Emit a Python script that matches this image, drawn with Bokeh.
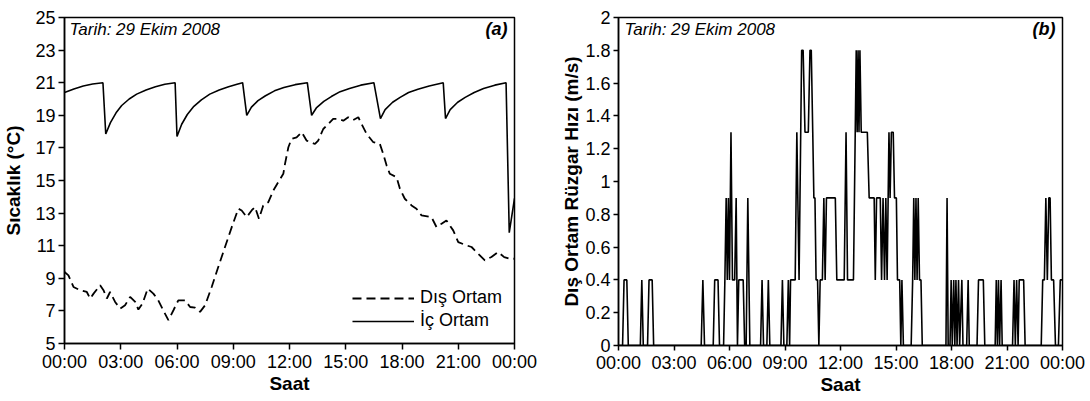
from bokeh.plotting import figure
from bokeh.models import Range1d, FixedTicker, Label, Legend, LegendItem
from bokeh.layouts import row
from bokeh.embed import file_html
from bokeh.resources import INLINE

# ---------------- data ----------------
hour_ticks = [0, 3, 6, 9, 12, 15, 18, 21, 24]
hour_labels = ["00:00", "03:00", "06:00", "09:00", "12:00", "15:00", "18:00", "21:00", "00:00"]
temp_ticks = [5, 7, 9, 11, 13, 15, 17, 19, 21, 23, 25]
wind_ticks = [0, 0.2, 0.4, 0.6, 0.8, 1, 1.2, 1.4, 1.6, 1.8, 2]
wind_tick_labels = ["0", "0.2", "0.4", "0.6", "0.8", "1", "1.2", "1.4", "1.6", "1.8", "2"]

# Dış Ortam (outdoor) temperature, °C
out_hours = [0.0, 0.21, 0.48, 0.83, 1.19, 1.37, 1.55, 1.9, 2.08, 2.26,
             2.43, 2.7, 2.97, 3.23, 3.5, 3.77, 3.94, 4.16, 4.44, 4.74,
             5.0, 5.22, 5.54, 5.81, 6.07, 6.43, 6.7, 6.96, 7.23, 7.5,
             7.85, 8.2, 8.56, 8.92, 9.27, 9.45, 9.72, 9.98, 10.16, 10.37,
             10.6, 10.87, 11.14, 11.4, 11.67, 11.76, 11.94, 12.11, 12.38, 12.65,
             12.91, 13.36, 13.53, 13.8, 14.07, 14.33, 14.6, 14.87, 15.13, 15.4,
             15.67, 15.84, 16.11, 16.47, 16.82, 17.0, 17.18, 17.35, 17.71, 17.89,
             18.15, 18.51, 18.77, 19.04, 19.57, 19.84, 20.11, 20.37, 20.73, 21.0,
             21.44, 21.71, 22.06, 22.42, 22.77, 23.13, 23.45, 23.75, 24.0]
out_temp = [9.39, 9.18, 8.47, 8.27, 8.16, 7.76, 8.06, 8.57, 8.27, 7.76,
            8.16, 7.55, 7.14, 7.35, 7.86, 7.55, 7.08, 7.45, 8.37, 8.06,
            7.65, 7.14, 6.43, 7.04, 7.65, 7.65, 7.24, 7.2, 6.94, 7.35,
            8.47, 9.69, 10.92, 12.14, 13.27, 13.16, 12.76, 13.16, 13.37, 12.65,
            13.47, 13.67, 14.39, 14.9, 15.41, 16.02, 17.04, 17.55, 17.65, 17.96,
            17.45, 17.24, 17.45, 18.16, 18.47, 18.78, 18.78, 18.67, 18.88, 18.71,
            18.88, 18.47, 17.86, 17.35, 17.24, 16.63, 15.92, 15.41, 15.2, 14.49,
            13.88, 13.47, 13.27, 12.86, 12.76, 12.14, 12.35, 12.55, 11.94, 11.22,
            11.02, 10.92, 10.51, 10.1, 10.31, 10.61, 10.3, 10.2, 10.2]

# İç Ortam (indoor) temperature, °C
in_hours = [0.0, 0.5, 1.0, 1.5, 2.05,
            2.2, 2.45, 2.75, 3.05, 3.45, 3.85, 4.35, 4.85, 5.35, 5.9,
            6.0, 6.25, 6.55, 6.9, 7.3, 7.75, 8.25, 8.75, 9.2, 9.5,
            9.72, 9.97, 10.32, 10.72, 11.2, 11.7, 12.3, 12.95,
            13.18, 13.43, 13.83, 14.23, 14.7, 15.2, 15.8, 16.5,
            16.85, 17.1, 17.5, 17.9, 18.35, 18.85, 19.45, 20.2,
            20.32, 20.57, 20.97, 21.37, 21.85, 22.35, 22.95, 23.55,
            23.72, 24.0]
in_temp = [20.4, 20.62, 20.8, 20.92, 21.0,
           17.85, 18.55, 19.15, 19.6, 20.0, 20.3, 20.55, 20.75, 20.9, 21.0,
           17.7, 18.45, 19.05, 19.55, 19.95, 20.3, 20.55, 20.75, 20.9, 21.0,
           19.0, 19.5, 19.9, 20.2, 20.5, 20.7, 20.88, 21.0,
           19.0, 19.45, 19.85, 20.15, 20.45, 20.65, 20.85, 21.0,
           18.8, 19.35, 19.8, 20.1, 20.4, 20.6, 20.8, 21.0,
           18.8, 19.35, 19.8, 20.1, 20.4, 20.65, 20.85, 21.0,
           11.8, 13.9]

# Dış Ortam rüzgar hızı (outdoor wind speed), m/s
wind_hours = [0.0, 0.22, 0.3, 0.45, 0.53,
              1.18, 1.26, 1.34,
              1.57, 1.65, 1.82, 1.9,
              4.47, 4.56, 4.65,
              5.12, 5.2, 5.38, 5.46,
              5.68, 5.75, 5.82, 5.88, 5.94, 6.0, 6.08, 6.16, 6.28, 6.36, 6.43, 6.5, 6.74, 6.82, 6.9, 6.99, 7.1,
              7.68, 7.76, 7.84,
              8.02, 8.1, 8.18,
              8.78, 8.86, 8.94,
              9.1, 9.18, 9.25, 9.3, 9.55, 9.64, 9.76, 9.9, 9.98, 10.08, 10.26, 10.35, 10.42, 10.5,
              10.56, 10.62, 10.68, 10.76, 10.83, 10.9, 11.02, 11.1, 11.17, 11.24, 11.72, 11.8,
              12.2, 12.3, 12.38, 12.7, 12.85, 12.9, 12.95, 13.0, 13.05, 13.12, 13.45, 13.55,
              13.82, 13.88, 13.95, 14.15, 14.22, 14.3, 14.38, 14.45, 14.52, 14.62, 14.68, 14.75,
              14.85, 14.92, 15.02, 15.08, 15.2, 15.26, 15.32, 15.4,
              15.82, 15.9, 15.96, 16.02, 16.08, 16.14, 16.2, 16.27, 16.35, 16.42,
              17.7, 17.76, 17.82,
              17.92, 17.98, 18.04, 18.12, 18.18, 18.24, 18.3, 18.38, 18.44, 18.56, 18.62, 18.82, 18.9, 18.96,
              19.38, 19.46, 19.72, 19.8,
              20.36, 20.42, 20.48, 20.54, 20.6, 20.68, 20.74,
              21.3, 21.38, 21.45, 21.52, 21.6, 21.66, 21.9, 21.98,
              22.85, 22.93, 23.02, 23.1, 23.18, 23.26, 23.33, 23.4, 23.52, 23.62, 23.78, 23.88, 24.0]
wind_speed = [0, 0, 0.4, 0.4, 0,
              0, 0.4, 0,
              0, 0.4, 0.4, 0,
              0, 0.4, 0,
              0, 0.4, 0.4, 0,
              0, 0.4, 0.9, 0.4, 0.9, 0.4, 1.3, 0.4, 0.4, 0.9, 0, 0.4, 0.4, 0, 0, 0.9, 0,
              0, 0.4, 0,
              0, 0.4, 0,
              0, 0.4, 0,
              0, 0.4, 0, 0.4, 0.4, 1.3, 0.4, 1.8, 1.8, 1.3, 1.3, 1.8, 1.8, 1.3,
              0.9, 0.9, 0.4, 0.4, 0, 0.4, 0.4, 0.9, 0.4, 0.9, 0.9, 0.4,
              0.4, 1.3, 0.4, 0.4, 1.8, 1.3, 1.8, 1.3, 1.8, 1.3, 1.3, 0.9,
              0.9, 0.4, 0.9, 0.9, 0.4, 0.9, 0.4, 0.9, 0.4, 1.3, 0.9, 1.3,
              1.3, 0.9, 0.9, 0.4, 0.4, 0, 0.4, 0,
              0, 0.4, 0.9, 0.4, 0.9, 0.4, 0.9, 0.4, 0.4, 0,
              0, 0.9, 0,
              0, 0.4, 0, 0.4, 0, 0.4, 0, 0.4, 0, 0.4, 0, 0, 0.4, 0,
              0, 0.4, 0.4, 0,
              0, 0.4, 0, 0.4, 0, 0.4, 0,
              0, 0.4, 0, 0.4, 0, 0.4, 0.4, 0,
              0, 0.4, 0.4, 0.9, 0.4, 0.9, 0.9, 0.4, 0.4, 0, 0, 0.4, 0.4]

# ---------------- styling ----------------
FONT = "Liberation Sans"
TICK_SIZE = "18px"
TITLE_SIZE = "19px"


def style(p, xlabel, ylabel, yticks, ylabels, tick_out, ylab_standoff, ytitle_standoff):
    p.grid.visible = False
    p.background_fill_color = "white"
    p.border_fill_color = "white"
    p.outline_line_color = "black"
    p.outline_line_width = 1.5
    p.outline_line_alpha = 1.0
    p.xaxis.ticker = FixedTicker(ticks=hour_ticks)
    p.xaxis.major_label_overrides = dict(zip(hour_ticks, hour_labels))
    p.yaxis.ticker = FixedTicker(ticks=yticks)
    p.yaxis.major_label_overrides = dict(zip(yticks, ylabels))
    p.xaxis.axis_label = xlabel
    p.yaxis.axis_label = ylabel
    for ax in (p.xaxis[0], p.yaxis[0]):
        ax.axis_line_color = "black"
        ax.axis_line_width = 1.5
        ax.major_tick_line_color = "black"
        ax.major_tick_line_width = 1.5
        ax.major_tick_out = tick_out
        ax.major_tick_in = 0
        ax.minor_tick_line_color = None
        ax.major_label_text_font = FONT
        ax.major_label_text_font_size = TICK_SIZE
        ax.major_label_text_color = "black"
        ax.axis_label_text_font = FONT
        ax.axis_label_text_font_size = TITLE_SIZE
        ax.axis_label_text_font_style = "bold"
        ax.axis_label_text_color = "black"
    p.xaxis.major_label_standoff = 2
    p.xaxis.axis_label_standoff = -2
    p.yaxis.major_label_standoff = ylab_standoff
    p.yaxis.axis_label_standoff = ytitle_standoff


def corner_labels(p, y_top, tag, dx):
    p.add_layout(Label(x=0, y=y_top, x_offset=dx, y_offset=-12, text="Tarih: 29 Ekim 2008",
                       text_font=FONT, text_font_size="17px", text_font_style="italic",
                       text_baseline="middle", text_align="left", text_color="black"))
    p.add_layout(Label(x=24, y=y_top, x_offset=-7, y_offset=-11, text=tag,
                       text_font=FONT, text_font_size="18px", text_font_style="bold italic",
                       text_baseline="middle", text_align="right", text_color="black"))


# ---------------- panel (a) ----------------
p1 = figure(width=545, height=396, output_backend="svg", toolbar_location=None,
            x_range=Range1d(0, 24), y_range=Range1d(5, 25),
            min_border_left=64, min_border_right=31, min_border_top=17, min_border_bottom=52)
style(p1, "Saat", "Sıcaklık (°C)", temp_ticks, [str(t) for t in temp_ticks], 6, 3, 8)
r_out = p1.line(out_hours, out_temp, line_color="black", line_width=1.8, line_dash="9 5")
r_in = p1.line(in_hours, in_temp, line_color="black", line_width=1.6)
corner_labels(p1, 25, "(a)", 5)
legend = Legend(items=[LegendItem(label="Dış Ortam", renderers=[r_out]),
                       LegendItem(label="İç Ortam", renderers=[r_in])],
                location="bottom_right", margin=12, padding=0, spacing=2,
                glyph_width=62, glyph_height=20, label_height=20, label_standoff=6,
                label_text_font=FONT, label_text_font_size="18px", label_text_color="black",
                background_fill_alpha=0, border_line_color=None)
p1.add_layout(legend)

# ---------------- panel (b) ----------------
p2 = figure(width=540, height=398, output_backend="svg", toolbar_location=None,
            x_range=Range1d(0, 24), y_range=Range1d(0, 2),
            min_border_left=73, min_border_right=23, min_border_top=16, min_border_bottom=50)
style(p2, "Saat", "Dış Ortam Rüzgar Hızı (m/s)", wind_ticks, wind_tick_labels, 5, 3, 0)
p2.line(wind_hours, wind_speed, line_color="black", line_width=1.6)
corner_labels(p2, 2, "(b)", 6)

layout = row(p1, p2)
open("out.html", "w").write(file_html(layout, INLINE))
